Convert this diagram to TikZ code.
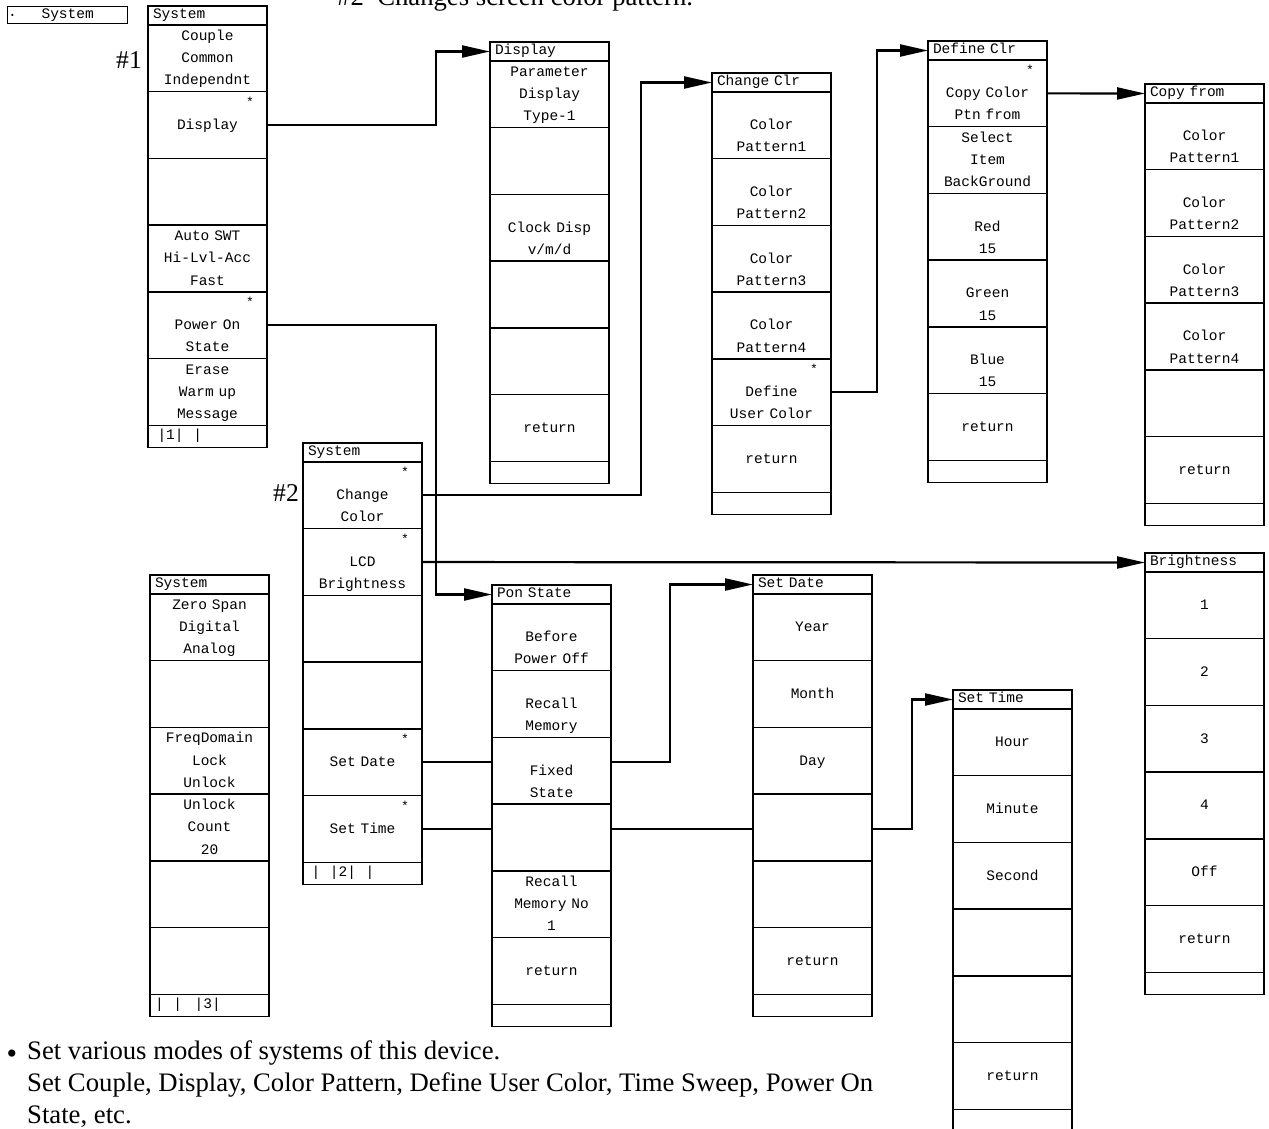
\documentclass[tikz,border=0pt]{standalone}
\usepackage{fontspec}
\setmainfont{Liberation Serif}
\newfontfamily\menufont{Liberation Mono}
\usetikzlibrary{arrows.meta, positioning, backgrounds}

\begin{document}
\begin{tikzpicture}[
  x=1pt, y=-1pt,
  ttl/.style={draw, line width=1.4pt, fill=white, anchor=north west, outer sep=0pt,
              minimum width=119, minimum height=19, inner xsep=5pt, inner ysep=0pt,
              text width=109, align=left, text height=9pt, text depth=3pt,
              font=\menufont\fontsize{14.5}{17}\selectfont},
  itm/.style={draw, line width=1.4pt, fill=white, anchor=north west, outer sep=0pt,
              minimum width=119, minimum height=66.7, inner sep=0pt,
              text width=117, align=center,
              font=\menufont\fontsize{14.5}{22.2}\selectfont,
              execute at begin node=\strut, execute at end node=\strut},
  foot/.style={ttl, minimum height=22},
  starmark/.style={anchor=north east, inner sep=0pt, font=\menufont\fontsize{13}{13}\selectfont},
  tag/.style={inner sep=0pt, font=\fontsize{25.6}{31}\selectfont},
  prose/.style={inner sep=0pt, font=\fontsize{26.7}{32}\selectfont},
  arr/.style={-{Triangle[length=28pt, width=12pt]}, line width=2.2pt}
]
\path[use as bounding box] (0,0) rectangle (1269,1129);
\begin{scope}[on background layer]
  \fill[white] (0,0) rectangle (1269,1129);
\end{scope}

% soft key
\node[draw, line width=1.4pt, anchor=north west, minimum width=120, minimum height=17, inner sep=0pt,
      font=\menufont\fontsize{14.5}{17}\selectfont] (key) at (7,6) {System};
\node[anchor=west, inner sep=0pt, font=\menufont\fontsize{14.5}{17}\selectfont] (keydot) at ([xshift=1pt]key.west) {.};

\node[prose, anchor=base west] (note) at (337,6) {\#2~~Changes screen color pattern.};
\node[tag] (tagA) at (129,60) {\#1};
\node[tag] (tagB) at (286,493) {\#2};

% System, page 1
\node[ttl] (sysA) at (148,6) {System};
\foreach \t [count=\i] in {{Couple\\Common\\Independnt},{Display},{},{Auto SWT\\Hi-Lvl-Acc\\Fast},{~\\Power On\\State},{Erase\\Warm up\\Message}}
  \node[itm] (sysA-\i) at (148,{25+(\i-1)*66.7}) {\t};
\node[foot] (sysA-f) at (148,425.2) {\hspace*{4.5pt}|1|~~|};

% Display
\node[ttl] (disp) at (490,42) {Display};
\foreach \t [count=\i] in {{Parameter\\Display\\Type-1},{},{~\\Clock Disp\\v/m/d},{},{},{return}}
  \node[itm] (disp-\i) at (490,{61+(\i-1)*66.7}) {\t};
\node[foot] (disp-f) at (490,461.2) {};

% Change Clr
\node[ttl] (chg) at (712,73) {Change Clr};
\foreach \t [count=\i] in {{~\\Color\\Pattern1},{~\\Color\\Pattern2},{~\\Color\\Pattern3},{~\\Color\\Pattern4},{~\\Define\\User Color},{return}}
  \node[itm] (chg-\i) at (712,{92+(\i-1)*66.7}) {\t};
\node[foot] (chg-f) at (712,492.2) {};

% Define Clr
\node[ttl] (def) at (928,41) {Define Clr};
\foreach \t [count=\i] in {{~\\Copy Color\\Ptn from},{Select\\Item\\BackGround},{~\\Red\\15},{~\\Green\\15},{~\\Blue\\15},{return}}
  \node[itm] (def-\i) at (928,{60+(\i-1)*66.7}) {\t};
\node[foot] (def-f) at (928,460.2) {};

% Copy from
\node[ttl] (cpy) at (1145,84) {Copy from};
\foreach \t [count=\i] in {{~\\Color\\Pattern1},{~\\Color\\Pattern2},{~\\Color\\Pattern3},{~\\Color\\Pattern4},{},{return}}
  \node[itm] (cpy-\i) at (1145,{103+(\i-1)*66.7}) {\t};
\node[foot] (cpy-f) at (1145,503.2) {};

% System, page 2
\node[ttl] (sysB) at (303,443) {System};
\foreach \t [count=\i] in {{~\\Change\\Color},{~\\LCD\\Brightness},{},{},{Set Date},{Set Time}}
  \node[itm] (sysB-\i) at (303,{462+(\i-1)*66.7}) {\t};
\node[foot] (sysB-f) at (303,862.2) {\hspace*{3.6pt}|~~|2|~~|};

% System, page 3
\node[ttl] (sysC) at (150,575) {System};
\foreach \t [count=\i] in {{Zero Span\\Digital\\Analog},{},{FreqDomain\\Lock\\Unlock},{Unlock\\Count\\20},{},{}}
  \node[itm] (sysC-\i) at (150,{594+(\i-1)*66.7}) {\t};
\node[foot] (sysC-f) at (150,994.2) {|~~|~~\hspace*{3pt}|3|};

% Pon State
\node[ttl] (pon) at (492,585) {Pon State};
\foreach \t [count=\i] in {{~\\Before\\Power Off},{~\\Recall\\Memory},{~\\Fixed\\State},{},{Recall\\Memory No\\1},{return}}
  \node[itm] (pon-\i) at (492,{604+(\i-1)*66.7}) {\t};
\node[foot] (pon-f) at (492,1004.2) {};

% Set Date
\node[ttl] (date) at (753,575) {Set Date};
\foreach \t [count=\i] in {{Year},{Month},{Day},{},{},{return}}
  \node[itm] (date-\i) at (753,{594+(\i-1)*66.7}) {\t};
\node[foot] (date-f) at (753,994.2) {};

% Set Time
\node[ttl] (time) at (953,690) {Set Time};
\foreach \t [count=\i] in {{Hour},{Minute},{Second},{},{},{return}}
  \node[itm] (time-\i) at (953,{709+(\i-1)*66.7}) {\t};
\node[foot] (time-f) at (953,1109.2) {};

% Brightness
\node[ttl] (bri) at (1145,553) {Brightness};
\foreach \t [count=\i] in {{1},{2},{3},{4},{Off},{return}}
  \node[itm] (bri-\i) at (1145,{572+(\i-1)*66.7}) {\t};
\node[foot] (bri-f) at (1145,972.2) {};

% keys that open a sub menu
\foreach \n in {sysA-2,sysA-5,chg-5,def-1,sysB-1,sysB-2,sysB-5,sysB-6}
  \node[starmark] (\n-s) at ([xshift=-13pt, yshift=-5pt]\n.north east) {*};

\begin{scope}[on background layer]
\draw[arr] (sysA-2.east) -- ++(169,0) |- (disp.west);
\draw[arr] (sysA-5.east) -- ++(169,0) |- (pon.west);
\draw[arr] (sysB-1.east) -- ++(219,0) |- (chg.west);
\draw[arr] (sysB-2.east) -- (bri.west);
\draw[arr] (chg-5.east) -- ++(46,0) |- (def.west);
\draw[arr] (def-1.east) -- (cpy.west);
\draw[arr] (sysB-5.east) -- ++(248,0) |- (date.west);
\draw[arr] (sysB-6.east) -- ++(490,0) |- (time.west);
\end{scope}

\node[inner sep=0pt, font=\fontsize{30}{30}\selectfont] (bullet) at (12,1057) {\textbullet};
% base of a multi-line node is its last line
\node[prose, anchor=base west, align=left] (desc) at (27,1123)
  {Set various modes of systems of this device.\\
   Set Couple, Display, Color Pattern, Define User Color, Time Sweep, Power On\\
   State, etc.};
\end{tikzpicture}
\end{document}
